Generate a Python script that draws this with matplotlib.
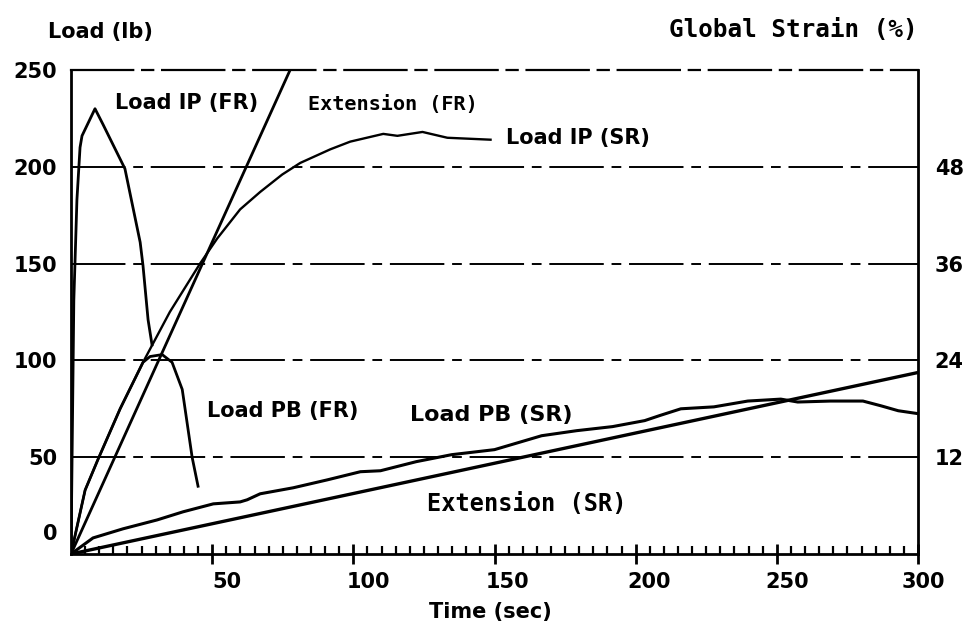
import matplotlib
matplotlib.use("Agg")
import matplotlib.pyplot as plt
from matplotlib.transforms import ScaledTranslation

# ---------------- data ----------------
# Load, in-plane, fast rate (lb vs sec)
ip_fr_t = [0, 1.0, 2.1, 3.2, 3.9, 8.5, 11.3, 19.1, 24.5, 25.5, 27.3, 28.7]
ip_fr_load = [0, 131, 183, 210, 216, 230, 222, 199, 161, 149, 121, 108]

# Load, plate bending, fast rate
pb_fr_t = [0, 5.0, 9.6, 17.4, 25.5, 28.0, 32.3, 35.8, 39.4, 42.9, 45.0]
pb_fr_load = [0, 33, 49, 75, 99, 102, 103, 99, 85, 50, 35]

# Load, in-plane, slow rate
ip_sr_t = [0, 5.0, 9.6, 17.4, 25.5, 35.0, 45.7, 51.8, 59.9, 67.0, 74.8, 81.2,
           91.8, 98.9, 110.6, 115.6, 124.5, 133.3, 148.6]
ip_sr_load = [0, 33, 49, 75, 99, 125, 150, 163, 178, 187, 196, 202,
              209, 213, 217, 216, 218, 215, 214]

# Load, plate bending, slow rate
pb_sr_t = [0, 7.8, 18.4, 30.5, 39.7, 50.4, 59.9, 62.4, 67.0, 78.7, 90.8, 102.5,
           109.6, 122.3, 134.8, 150.0, 166.7, 179.1, 191.8, 203.2, 208.5, 216.0,
           227.7, 239.7, 251.4, 257.4, 269.0, 280.5, 287.0, 293.0, 300.0]
pb_sr_load = [0, 8.3, 13.0, 17.6, 21.8, 25.9, 26.9, 28.0, 31.1, 34.2, 38.3, 42.5,
              43.0, 47.7, 51.3, 53.9, 61.1, 63.7, 65.8, 68.9, 71.5, 75.0,
              76.0, 79.0, 80.0, 78.5, 79.0, 79.0, 76.5, 74.0, 72.5]

# Global strain (%) vs time, extension traces
ext_fr_t = [0, 77.6]
ext_fr_strain = [0, 60]
ext_sr_t = [0, 300]
ext_sr_strain = [0, 22.5]

x_ticks = [50, 100, 150, 200, 250, 300]
y_ticks = [0, 50, 100, 150, 200, 250]
y2_ticks = [12, 24, 36, 48]
grid_loads = [50, 100, 150, 200]

# ---------------- figure ----------------
fig = plt.figure(figsize=(9.71, 6.40), dpi=100)
ax = fig.add_axes([71/971, 1-554/640, (918-71)/971, (554-70)/640])
ax2 = ax.twinx()

ax.set_xlim(0, 300)
ax.set_ylim(0, 250)
ax2.set_ylim(0, 60)

K = "black"
dash = (0, (28, 4, 5, 4))

for g in grid_loads:
    ax.axhline(g, color=K, lw=1.4, ls=dash, zorder=1)

ax.plot(ip_fr_t, ip_fr_load, color=K, lw=2.0, zorder=3)
ax.plot(pb_fr_t, pb_fr_load, color=K, lw=2.0, zorder=3)
ax.plot(ip_sr_t, ip_sr_load, color=K, lw=1.7, zorder=3)
ax.plot(pb_sr_t, pb_sr_load, color=K, lw=2.2, zorder=3)
ax2.plot(ext_fr_t, ext_fr_strain, color=K, lw=2.0, zorder=3)
ax2.plot(ext_sr_t, ext_sr_strain, color=K, lw=2.4, zorder=3)

# spines
for a in (ax, ax2):
    for s in a.spines.values():
        s.set_visible(False)
ax.spines['left'].set_visible(True)
ax.spines['left'].set_linewidth(2.0)
ax.spines['bottom'].set_visible(True)
ax.spines['bottom'].set_linewidth(2.0)
ax.spines['top'].set_visible(True)
ax.spines['top'].set_linewidth(1.6)
ax.spines['top'].set_linestyle(dash)
ax2.spines['right'].set_visible(True)
ax2.spines['right'].set_linewidth(2.0)

tick_font = dict(family="DejaVu Sans", weight="bold", size=15)

# x ticks
ax.set_xticks(x_ticks)
ax.set_xticklabels([str(v) for v in x_ticks], **tick_font)
ax.set_xticks(range(5, 300, 5), minor=True)
ax.tick_params(axis='x', which='major', direction='inout', length=14, width=2, pad=6)
ax.tick_params(axis='x', which='minor', direction='in', length=6, width=1.6)
x_shift_px = [15, 15, 13, 13, 10, 5]
for lbl, dx in zip(ax.get_xticklabels(), x_shift_px):
    lbl.set_transform(lbl.get_transform() + ScaledTranslation(dx/100, 0, fig.dpi_scale_trans))

# left y ticks
ax.set_yticks(y_ticks)
ax.set_yticklabels([str(v) for v in y_ticks], **tick_font)
ax.tick_params(axis='y', which='both', length=0, pad=10)
zero_lab = ax.get_yticklabels()[0]
zero_lab.set_transform(zero_lab.get_transform() + ScaledTranslation(0, 0.22, fig.dpi_scale_trans))

# right y ticks
ax2.set_yticks(y2_ticks)
ax2.set_yticklabels([str(v) for v in y2_ticks], **tick_font)
ax2.tick_params(axis='y', which='both', length=0, pad=12)

# axis titles
fig.text(48/971, 1-32/640, "Load (lb)", ha="left", va="center",
         family="DejaVu Sans", weight="bold", size=15)
fig.text(918/971, 1-30/640, "Global Strain (%)", ha="right", va="center",
         family="DejaVu Sans Mono", weight="bold", size=17.5)
fig.text(490/971, 1-612/640, "Time (sec)", ha="center", va="center",
         family="DejaVu Sans", weight="bold", size=15)

# curve labels
lab = dict(family="DejaVu Sans", weight="bold", size=15, color=K, zorder=4)
mono = dict(family="DejaVu Sans Mono", weight="bold", color=K, zorder=4)
ax.text(15.6, 233, "Load IP (FR)", ha="left", va="center", **lab)
ax.text(84.0, 232, "Extension (FR)", ha="left", va="center", size=14.5, **mono)
ax.text(154.0, 215, "Load IP (SR)", ha="left", va="center", **lab)
ax.text(48.2, 74, "Load PB (FR)", ha="left", va="center", **lab)
ax.text(120.0, 72, "Load PB (SR)", ha="left", va="center",
        family="DejaVu Sans", weight="bold", size=16, color=K, zorder=4)
ax.text(126.0, 26, "Extension (SR)", ha="left", va="center", size=17, **mono)

fig.savefig("out.png", dpi=100)
